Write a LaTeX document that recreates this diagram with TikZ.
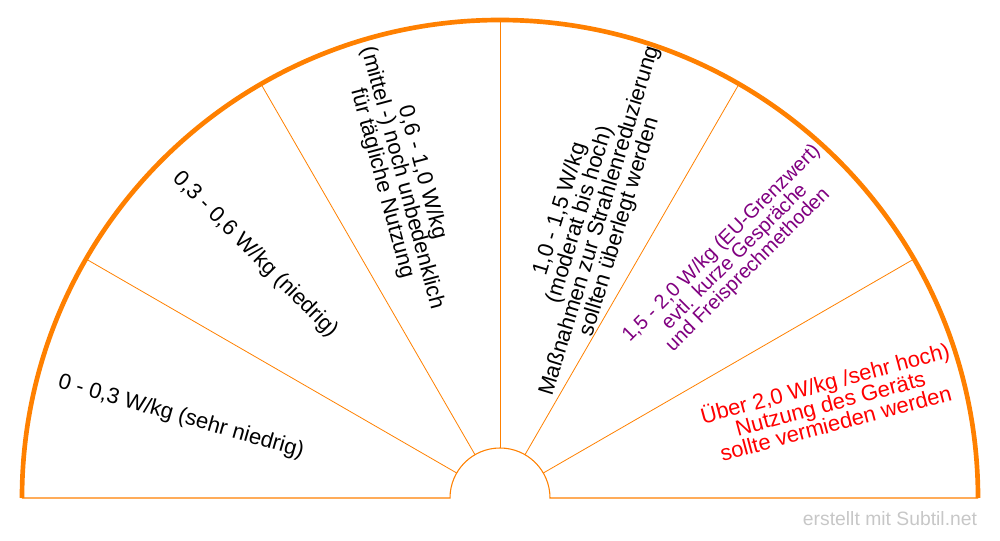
\documentclass[tikz,border=0pt]{standalone}
\usepackage{fontspec}
\setmainfont{Liberation Sans}
\usetikzlibrary{calc}
\definecolor{org}{RGB}{255,128,0}
\definecolor{purp}{RGB}{128,0,128}
\begin{document}
\begin{tikzpicture}[x=0.75pt,y=0.75pt,
  lab/.style={align=center,font=\fontsize{16.5}{15.5}\selectfont,inner sep=0pt}]
\useasboundingbox (0,0) rectangle (1000,540);
\coordinate (c) at (500,42);
\foreach \a in {30,60,90,120,150}
  \draw[org,line width=0.6pt] ($(c)+(\a:50)$) -- ($(c)+(\a:478)$);
\draw[org,line width=0.8pt] (22,42) -- (450,42) arc (180:0:50) -- (978,42);
\draw[org,line width=3.5pt] (22,42) arc (180:0:478);
\node[lab,rotate=-16] (t1) at (181,123) {0 - 0,3 W/kg (sehr niedrig)};
\node[lab,rotate=-45] (t2) at (255,285) {0,3 - 0,6 W/kg (niedrig)};
\node[lab,rotate=-75] (t3) at (402,362) {0,6 - 1,0 W/kg\\(mittel -) noch unbedenklich\\für tägliche Nutzung};
\node[lab,rotate=73] (t4) at (590,322) {1,0 - 1,5 W/kg\\(moderat bis hoch)\\Maßnahmen zur Strahlenreduzierung\\sollten überlegt werden};
\node[lab,rotate=45,text=purp,font=\fontsize{15}{14}\selectfont] (t5) at (735,283) {1,5 - 2,0 W/kg (EU-Grenzwert)\\evtl. kurze Gespräche\\und Freisprechmethoden};
\node[lab,rotate=15,text=red] (t6) at (830,138) {Über 2,0 W/kg /sehr hoch)\\Nutzung des Geräts\\sollte vermieden werden};
\node[font=\fontsize{14.5}{14}\selectfont,text=black!22,inner sep=0pt] (wm) at (890,21) {erstellt mit Subtil.net};
\end{tikzpicture}
\end{document}
